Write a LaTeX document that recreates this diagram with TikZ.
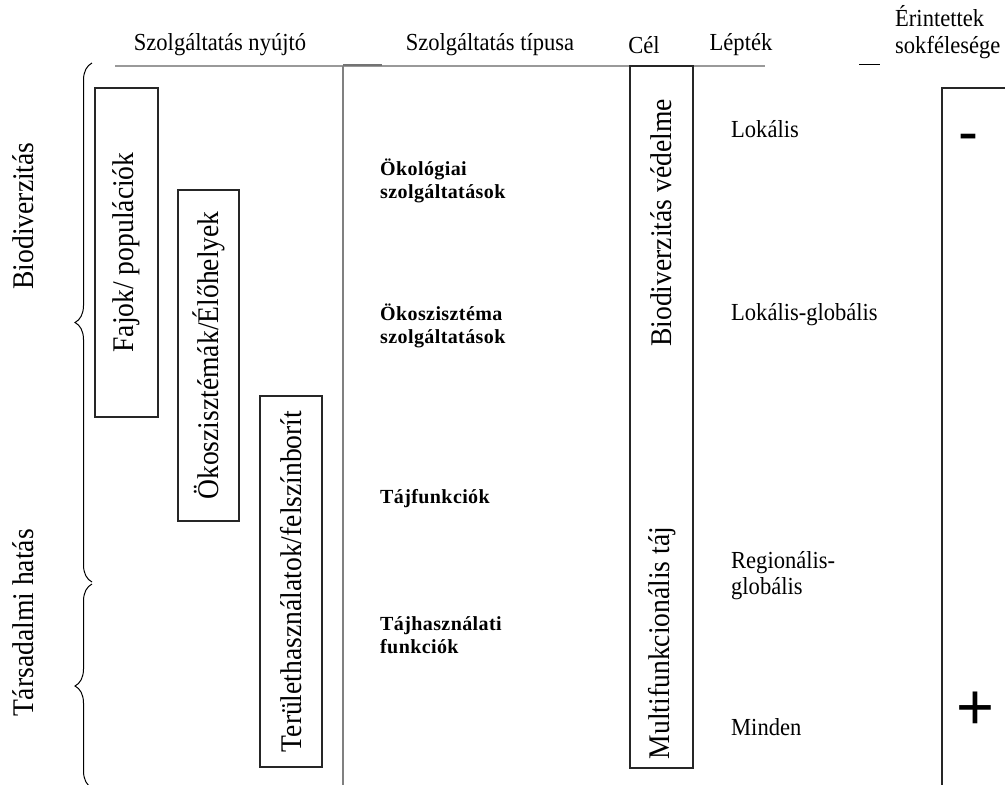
\documentclass[tikz,border=0pt]{standalone}
\usepackage{fontspec}
\setmainfont{Liberation Serif}
\newfontfamily\jelfont{Liberation Sans}
\newfontfamily\ritkabold[LetterSpace=2]{Liberation Serif}
\usetikzlibrary{decorations.pathreplacing}
\newcommand{\szuk}[1]{\scalebox{0.92}[1]{#1}}

\tikzset{
  hdr/.style={inner sep=0pt, font=\fontsize{24.5}{27}\selectfont},
  rot/.style={inner sep=0pt, rotate=90, font=\fontsize{30}{32}\selectfont},
  doboz/.style={draw=black!85, line width=1.3pt, rotate=90, inner sep=0pt, font=\fontsize{30}{32}\selectfont},
  lep/.style={anchor=west, inner sep=0pt, font=\fontsize{24.5}{26}\selectfont},
  szolg/.style={anchor=west, inner sep=0pt, align=left, font=\ritkabold\bfseries\fontsize{20}{23}\selectfont},
  kapocs/.style={decorate, decoration={brace, amplitude=17pt}, line width=1pt},
}

\begin{document}
\begin{tikzpicture}[x=1pt, y=-1pt]
            \useasboundingbox (0,0) rectangle (1005,785);

            \node[hdr] (nyujto) at (220,45) {\szuk{Szolgáltatás nyújtó}};
            \node[hdr] (tipus) at (490,45) {\szuk{Szolgáltatás típusa}};
            \node[hdr] (cel) at (644,45) {\szuk{Cél}};
            \node[hdr] (leptek) at (741,45) {\szuk{Lépték}};
            \node[hdr, anchor=west] (erintett) at (895,34) {\szuk{\begin{tabular}{@{}l@{}}Érintettek\\sokfélesége\end{tabular}}};
            \draw[line width=1pt] (859,64) -- (880,64);

            \draw[black!40, line width=1.2pt] (115,66) -- (765,66);
            \draw[black!55, line width=2pt] (343,65) -- (382,65);
            \draw[black!50, line width=2pt] (343,66) -- (343,790);

            \draw[kapocs] (92,582) -- (92,63);
            \draw[kapocs] (92,788) -- (92,584);
            \node[rot] (biodiv) at (23,216) {\szuk{Biodiverzitás}};
            \node[rot] (tarsad) at (23,623) {\szuk{Társadalmi hatás}};

            \node[doboz, minimum width=329pt, minimum height=63pt] (fajok) at (126.5,252.5) {\szuk{Fajok/ populációk}};
            \node[doboz, minimum width=331pt, minimum height=61pt] (okoszist) at (208.5,355.5) {\szuk{Ökoszisztémák/Élőhelyek}};
            \node[doboz, minimum width=371pt, minimum height=62pt] (terulet) at (291,581.5) {\szuk{Területhasználatok/felszínborít}};

            \node[szolg] (okologiai) at (380,180.5) {Ökológiai\\szolgáltatások};
            \node[szolg] (okoszolg) at (380,325.5) {Ökoszisztéma\\szolgáltatások};
            \node[szolg] (tajfunk) at (380,499) {Tájfunkciók};
            \node[szolg] (tajhaszn) at (380,635) {Tájhasználati\\funkciók};

            \node[draw=black!85, line width=1.3pt, minimum width=63pt, minimum height=702pt] (celdoboz) at (661.5,417) {};
            \node[rot] (vedelem) at (661,223) {\szuk{Biodiverzitás védelme}};
            \node[rot] (multi) at (662,643) {\szuk{Multifunkcionális táj}};

            \node[lep] (lokalis) at (731,129) {\szuk{Lokális}};
            \node[lep] (lokglob) at (731,315) {\szuk{Lokális-globális}};
            \node[lep] (regglob) at (731,576) {\szuk{\begin{tabular}{@{}l@{}}Regionális-\\globális\end{tabular}}};
            \node[lep] (minden) at (731,727) {\szuk{Minden}};

            \draw[black!85, line width=1.3pt] (942,88) rectangle (1012,792);
            \node[anchor=base, inner sep=0pt, font=\jelfont\fontsize{60}{60}\selectfont] (minusz) at (968,152) {-};
            \node[anchor=base, inner sep=0pt, font=\jelfont\fontsize{65}{65}\selectfont] (plusz) at (975,729) {+};
        \end{tikzpicture}
\end{document}
